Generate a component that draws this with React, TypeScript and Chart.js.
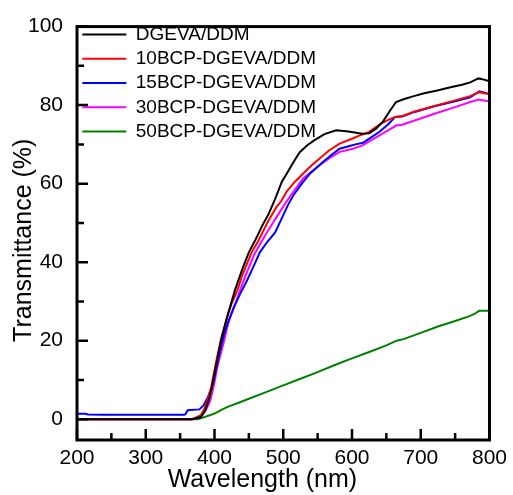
import React, { useEffect, useRef } from "react";
import { Chart, registerables } from "chart.js";

Chart.register(...registerables);

// ---- Data ----
const seriesNames = [
  "DGEVA/DDM",
  "10BCP-DGEVA/DDM",
  "15BCP-DGEVA/DDM",
  "30BCP-DGEVA/DDM",
  "50BCP-DGEVA/DDM",
];
const seriesColors = ["#000000", "#ff0000", "#0000ff", "#ff00ff", "#008000"];

const wl0 = [200, 368, 374, 380, 386, 392, 396, 401, 410, 420, 430, 441, 450, 459, 470, 478, 488, 498, 505, 515, 524, 535, 545, 560, 577, 595, 615, 625, 635, 645, 655, 664, 675, 690, 705, 724, 745, 760, 772, 784, 792, 800];
const t0 = [0, 0, 0.3, 0.5, 2, 5, 8, 12.5, 20.5, 27, 33, 38.5, 42.5, 45.5, 49.5, 52, 56, 60.5, 62.5, 65.5, 68, 69.8, 71, 72.6, 73.6, 73.3, 72.7, 72.8, 74, 75.8, 78.5, 80.8, 81.5, 82.3, 83, 83.7, 84.6, 85.2, 85.8, 86.8, 86.5, 86.1];

const wl10 = [200, 366, 372, 380, 385, 390, 395, 399, 404, 409, 418, 425, 433, 440, 447, 454, 464, 478, 490, 497, 505, 517, 529, 541, 553, 567, 582, 601, 613, 625, 642, 652, 663, 673, 690, 720, 750, 772, 785, 792, 800];
const t10 = [0, 0, 0.3, 1, 2.5, 5, 8, 11.6, 16, 20, 25.9, 29.5, 32.7, 36.5, 39.5, 42.5, 45.5, 50.4, 54, 55.5, 58, 60.5, 62.6, 64.6, 66.4, 68.5, 70.2, 71.5, 72.4, 73.2, 75.3, 76.2, 77, 77.2, 78.3, 79.8, 81.2, 82.3, 83.3, 83, 82.8];

const wl15 = [200, 212, 216, 238, 356, 358, 361, 378, 384, 390, 395, 399, 406, 414, 420, 428, 437, 447, 457, 466, 476, 488, 498, 507, 515, 527, 539, 558, 570, 582, 595, 605, 616, 628, 640, 652, 663, 673, 690, 720, 750, 772, 785, 792, 800];
const t15 = [1.4, 1.4, 1.2, 1.1, 1.1, 1.3, 2.3, 2.5, 3.5, 5.5, 7.5, 9.9, 15.8, 21.7, 24.8, 28.4, 31.8, 35.2, 39, 42.5, 45, 47.5, 51.2, 54.6, 57.1, 60, 62.6, 65.6, 67.3, 68.9, 69.5, 70, 70.4, 71.8, 73.2, 75, 77, 77.1, 78.2, 79.7, 81, 82, 83.5, 83.2, 82.8];

const wl30 = [200, 368, 374, 382, 388, 394, 399, 404, 414, 420, 428, 445, 458, 466, 476, 486, 495, 505, 517, 529, 541, 553, 567, 582, 600, 616, 640, 655, 664, 673, 690, 720, 750, 772, 784, 792, 800];
const t30 = [0, 0, 0.3, 1, 2.5, 4.8, 8.5, 13.2, 20, 24.5, 28.4, 36.5, 42, 44.5, 47.5, 50.3, 52.8, 55.5, 58.5, 61.3, 63, 64.7, 66.5, 68.1, 68.8, 69.8, 72.3, 73.8, 74.8, 75, 76, 77.8, 79.5, 80.8, 81.4, 81.2, 81];

const wl50 = [200, 375, 380, 390, 400, 410, 420, 435, 450, 475, 500, 525, 550, 575, 600, 625, 650, 665, 675, 700, 725, 750, 770, 778, 785, 800];
const t50 = [0, 0, 0.2, 0.8, 1.4, 2.4, 3.2, 4.2, 5.2, 6.9, 8.6, 10.3, 12, 13.8, 15.5, 17.1, 18.8, 20, 20.4, 22, 23.6, 25, 26.2, 26.8, 27.6, 27.6];

const seriesX = [wl0, wl10, wl15, wl30, wl50];
const seriesY = [t0, t10, t15, t30, t50];

const xTicks = [200, 300, 400, 500, 600, 700, 800];
const xMinorTicks = [250, 350, 450, 550, 650, 750];
const yTicks = [0, 20, 40, 60, 80, 100];
const yMinorTicks = [10, 30, 50, 70, 90];

const frameTicks = {
  id: "frameTicks",
  afterDatasetsDraw(chart: any) {
    const { ctx, chartArea: a, scales } = chart;
    const x = scales.x;
    const y = scales.y;
    ctx.save();
    ctx.strokeStyle = "#000";
    ctx.lineWidth = 2.5;
    ctx.beginPath();
    xTicks.forEach((v) => {
      const p = x.getPixelForValue(v);
      ctx.moveTo(p, a.bottom);
      ctx.lineTo(p, a.bottom - 11);
    });
    xMinorTicks.forEach((v) => {
      const p = x.getPixelForValue(v);
      ctx.moveTo(p, a.bottom);
      ctx.lineTo(p, a.bottom - 7);
    });
    yTicks.forEach((v) => {
      const p = y.getPixelForValue(v);
      ctx.moveTo(a.left, p);
      ctx.lineTo(a.left + 11, p);
    });
    yMinorTicks.forEach((v) => {
      const p = y.getPixelForValue(v);
      ctx.moveTo(a.left, p);
      ctx.lineTo(a.left + 7, p);
    });
    ctx.stroke();
    ctx.lineWidth = 3;
    ctx.strokeRect(a.left, a.top, a.right - a.left, a.bottom - a.top);
    ctx.restore();
  },
};

const legendShift = {
  id: "legendShift",
  afterLayout(chart: any) {
    const lg = chart.legend;
    if (lg) {
      const h = lg.height;
      lg.top = chart.chartArea.top - 7;
      lg.bottom = lg.top + h;
    }
  },
};

export default function App() {
  const ref = useRef<HTMLCanvasElement>(null);
  useEffect(() => {
    document.body.style.margin = "0";
    Chart.defaults.font.family = "'Liberation Sans', Arial, sans-serif";
    Chart.defaults.color = "#000";
    const datasets = seriesNames.map((name, i) => ({
      label: name,
      data: seriesX[i].map((xv, j) => ({ x: xv, y: seriesY[i][j] })),
      borderColor: seriesColors[i],
      backgroundColor: seriesColors[i],
      borderWidth: 2,
      pointRadius: 0,
      fill: false,
      tension: 0,
    }));
    const chart = new Chart(ref.current!, {
      type: "line",
      data: { datasets },
      options: {
        animation: false,
        responsive: false,
        devicePixelRatio: 1,
        layout: { padding: { top: 23, right: 20, left: 0, bottom: 0 } },
        plugins: {
          tooltip: { enabled: false },
          legend: {
            position: "chartArea" as any,
            align: "start",
            labels: {
              usePointStyle: true,
              pointStyle: "line",
              pointStyleWidth: 44,
              font: { size: 19 },
              color: "#000",
              padding: 5.3,
            },
          },
        },
        scales: {
          x: {
            type: "linear",
            min: 200,
            max: 800,
            afterBuildTicks: (s: any) => {
              s.ticks = xTicks.map((v) => ({ value: v }));
            },
            afterFit: (s: any) => {
              s.height = 55;
            },
            ticks: { font: { size: 21 }, color: "#000", padding: 6, maxRotation: 0, autoSkip: false },
            grid: { display: false, drawTicks: false },
            border: { display: false },
            title: {
              display: true,
              text: "Wavelength (nm)      ",
              font: { size: 25 },
              color: "#000",
              padding: { top: 0, bottom: 0 },
            },
          },
          y: {
            type: "linear",
            min: -5.3,
            max: 100,
            afterBuildTicks: (s: any) => {
              s.ticks = yTicks.map((v) => ({ value: v }));
            },
            afterFit: (s: any) => {
              s.width = 77;
            },
            ticks: { font: { size: 21 }, color: "#000", padding: 14, autoSkip: false },
            grid: { display: false, drawTicks: false },
            border: { display: false },
            title: {
              display: true,
              text: "Transmittance (%)  ",
              font: { size: 25 },
              color: "#000",
              padding: { top: 9, bottom: 0 },
            },
          },
        },
      },
      plugins: [frameTicks, legendShift],
    });
    return () => chart.destroy();
  }, []);
  return (
    <div style={{ position: "relative", width: 513, height: 495 }}>
      <canvas ref={ref} width={513} height={495} style={{ display: "block", width: 513, height: 495 }} />
    </div>
  );
}
